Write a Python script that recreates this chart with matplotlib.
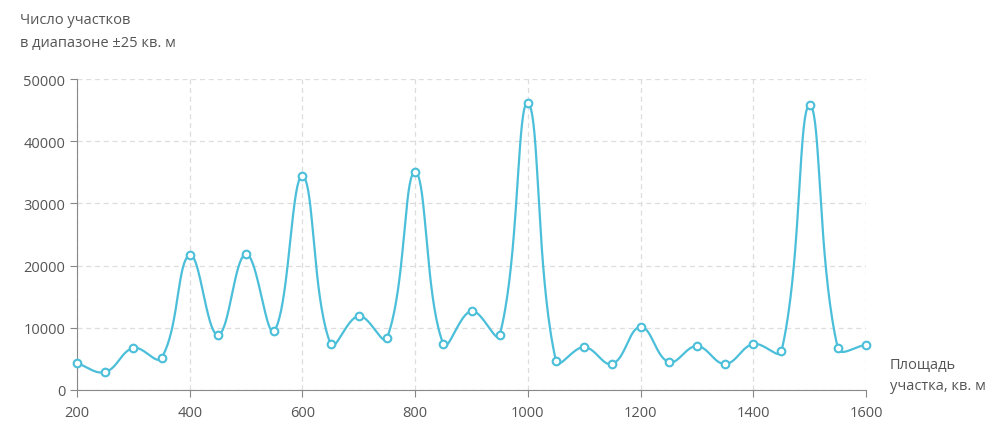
import numpy as np
import matplotlib.pyplot as plt

plt.rcParams['font.family'] = ['Open Sans', 'DejaVu Sans']

area = [200, 250, 300, 350, 400, 450, 500, 550, 600, 650, 700, 750, 800, 850,
        900, 950, 1000, 1050, 1100, 1150, 1200, 1250, 1300, 1350, 1400, 1450,
        1500, 1550, 1600]
count = [4300, 2900, 6750, 5150, 21700, 8850, 21850, 9500, 34400, 7400, 11900,
         8350, 35050, 7400, 12700, 8850, 46150, 4650, 6900, 4200, 10150, 4500,
         7050, 4200, 7400, 6250, 45800, 6750, 7250]
xticks = [200, 400, 600, 800, 1000, 1200, 1400, 1600]
yticks = [0, 10000, 20000, 30000, 40000, 50000]

color = '#4bbfd9'
text_col = '#555555'


def spline(x, y, sx, sy, tension=0.4, n=40):
    # bezier spline with distance-weighted control points (pixel space)
    P = np.column_stack([np.asarray(x, float) * sx, np.asarray(y, float) * sy])
    m = len(P)
    cp_prev = P.copy()
    cp_next = P.copy()
    for i in range(m):
        prev = P[max(i - 1, 0)]
        nxt = P[min(i + 1, m - 1)]
        d01 = np.linalg.norm(P[i] - prev)
        d12 = np.linalg.norm(nxt - P[i])
        tot = d01 + d12
        if tot == 0:
            continue
        cp_prev[i] = P[i] - tension * d01 / tot * (nxt - prev)
        cp_next[i] = P[i] + tension * d12 / tot * (nxt - prev)
    t = np.linspace(0, 1, n)[:, None]
    out = []
    for i in range(m - 1):
        a, b, c, d = P[i], cp_next[i], cp_prev[i + 1], P[i + 1]
        out.append((1 - t) ** 3 * a + 3 * (1 - t) ** 2 * t * b
                   + 3 * (1 - t) * t ** 2 * c + t ** 3 * d)
    out = np.vstack(out)
    return out[:, 0] / sx, out[:, 1] / sy


fig = plt.figure(figsize=(9.92, 4.31), dpi=100)
ax = fig.add_axes([77 / 992, 40 / 431, 789 / 992, 311 / 431])

cx, cy = spline(area, count, 789 / 1400, 311 / 50000)
ax.plot(cx, cy, color=color, lw=1.6, zorder=3, clip_on=False)
ax.plot(area, count, 'o', ms=5.5, mfc='white', mec=color, mew=1.5, zorder=4,
        clip_on=False)

ax.set_xlim(200, 1600)
ax.set_ylim(0, 50000)
ax.set_xticks(xticks)
ax.set_yticks(yticks)
ax.grid(True, ls=(0, (4, 3)), color='#dddddd', lw=0.9)
ax.set_axisbelow(True)
for s in ['top', 'right']:
    ax.spines[s].set_visible(False)
for s in ['left', 'bottom']:
    ax.spines[s].set_color('#888888')
ax.tick_params(colors='#888888', labelcolor=text_col, labelsize=10.5, length=5)
ax.tick_params(axis='x', pad=6)

fig.text(20 / 992, 1 - 32 / 431, 'Число участков\nв диапазоне ±25 кв. м',
         color=text_col, fontsize=10.5, va='center', linespacing=1.75)
fig.text(890 / 992, 1 - 376 / 431, 'Площадь\nучастка, кв. м',
         color=text_col, fontsize=10.5, va='center', linespacing=1.6)

fig.savefig('out.png', dpi=100)
